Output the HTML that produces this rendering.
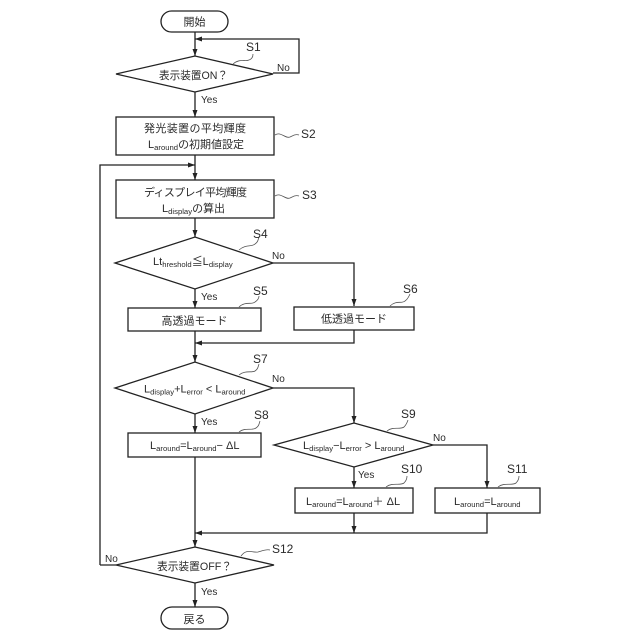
<!DOCTYPE html>
<html><head><meta charset="utf-8"><style>
html,body{margin:0;padding:0;background:#fff}
svg{display:block}
text{font-family:"Liberation Sans","Noto Sans CJK JP",sans-serif;fill:#2a2a2a;font-size:11px}
.s{font-size:12px}
.y{font-size:10px}
.b{font-size:7.7px}
.l{fill:none;stroke:#222;stroke-width:1.3}
.q{fill:none;stroke:#555;stroke-width:.8}
.h{fill:#222;stroke:none}
</style></head><body>
<svg width="640" height="640" viewBox="0 0 640 640" xmlns="http://www.w3.org/2000/svg">
<defs>
<path id="d" class="h" d="M-2.5,-7 L2.5,-7 L0,0 Z"/>
<path id="r" class="h" d="M7,-2.5 L7,2.5 L0,0 Z"/>
</defs>
<!-- connectors -->
<path class="l" d="M195,32V56M273,73H299V39H195M195,92V117M195,155V180M100,565V165H195M195,218V237M273,263H354V306M195,289V308M354,330V343H195M195,331V362M273,388H354V423M195,414V433M354,467V488M433,445H487V488M195,457V547M354,513V533M487,513V533H195M116,565H100M195,583V607"/>
<use href="#d" x="195" y="56"/><use href="#r" x="195" y="39"/><use href="#d" x="195" y="117"/>
<use href="#d" x="195" y="180"/><use href="#d" x="195" y="237"/><use href="#d" x="354" y="306"/>
<use href="#d" x="195" y="308"/><use href="#r" x="195" y="343"/><use href="#d" x="195" y="362"/>
<use href="#d" x="195" y="433"/><use href="#d" x="354" y="423"/><use href="#d" x="354" y="488"/>
<use href="#d" x="487" y="488"/><use href="#d" x="354" y="533"/><use href="#r" x="195" y="533"/>
<use href="#d" x="195" y="547"/><use href="#d" x="195" y="607"/>
<path class="h" d="M188,162.500L188,167.500L195,165Z"/>
<!-- shapes -->
<rect class="l" x="161" y="11" width="67" height="21" rx="10.500"/>
<path class="l" d="M116,74L195,56L273,74L195,92Z"/>
<rect class="l" x="116" y="117" width="158" height="38"/>
<rect class="l" x="116" y="180" width="158" height="38"/>
<path class="l" d="M115,263L195,237L273,263L195,289Z"/>
<rect class="l" x="128" y="308" width="133" height="23"/>
<rect class="l" x="294" y="307" width="120" height="23"/>
<path class="l" d="M115,388L195,362L273,388L195,414Z"/>
<rect class="l" x="128" y="433" width="133" height="24"/>
<path class="l" d="M274,445L354,423L433,445L354,467Z"/>
<rect class="l" x="295" y="488" width="118" height="25"/>
<rect class="l" x="435" y="488" width="105" height="25"/>
<path class="l" d="M116,565L195,547L274,565L195,583Z"/>
<rect class="l" x="161" y="607" width="67" height="22" rx="11"/>
<!-- leader squiggles -->
<path class="q" d="M233,64C240,58 245,62 249,60C252,59 253,57 253,54"/>
<path class="q" d="M275,135C281,131 285,139 290,137C294,135 296,134 299,135"/>
<path class="q" d="M275,196C281,192 285,200 290,198C294,196 296,195 299,196"/>
<path class="q" d="M239,250C246,244 252,247 255,244C258,242 258,240 259,237"/>
<path class="q" d="M239,307C245,301 252,305 255,302C258,300 259,298 259,296"/>
<path class="q" d="M390,306C396,300 402,304 405,301C408,299 409,296 410,294"/>
<path class="q" d="M239,375C245,370 252,373 255,371C258,369 258,367 259,364"/>
<path class="q" d="M239,432C245,427 252,431 256,428C259,426 259,424 260,421"/>
<path class="q" d="M387,431C393,426 400,430 404,427C406,425 407,423 408,420"/>
<path class="q" d="M386,487C392,482 400,486 404,483C406,481 407,479 407,476"/>
<path class="q" d="M498,487C504,482 512,486 516,483C518,481 519,479 519,476"/>
<path class="q" d="M241,556C247,548 252,553 258,552C262,551 266,549 270,550"/>
<!-- step labels -->
<text class="s" x="246" y="51">S1</text>
<text class="s" x="301" y="138">S2</text>
<text class="s" x="302" y="199">S3</text>
<text class="s" x="253" y="238">S4</text>
<text class="s" x="253" y="295">S5</text>
<text class="s" x="403" y="293">S6</text>
<text class="s" x="253" y="363">S7</text>
<text class="s" x="254" y="419">S8</text>
<text class="s" x="401" y="418">S9</text>
<text class="s" x="401" y="473">S10</text>
<text class="s" x="507" y="473">S11</text>
<text class="s" x="272" y="553">S12</text>
<!-- yes/no -->
<text class="y" x="277" y="71">No</text>
<text class="y" x="201" y="103">Yes</text>
<text class="y" x="272" y="259">No</text>
<text class="y" x="201" y="300">Yes</text>
<text class="y" x="272" y="382">No</text>
<text class="y" x="201" y="425">Yes</text>
<text class="y" x="433" y="441">No</text>
<text class="y" x="358" y="478">Yes</text>
<text class="y" x="105" y="562">No</text>
<text class="y" x="201" y="595">Yes</text>
<!-- node text -->
<text x="194.500" y="25.500" text-anchor="middle">開始</text>
<text x="159" y="79" textLength="69" lengthAdjust="spacingAndGlyphs">表示装置ON？</text>
<text x="144" y="132" textLength="102">発光装置の平均輝度</text>
<text x="148" y="148">L<tspan class="b" dy="2">around</tspan><tspan dy="-2">の初期値設定</tspan></text>
<text x="144" y="196" textLength="103">ディスプレイ平均輝度</text>
<text x="162" y="212">L<tspan class="b" dy="2">display</tspan><tspan dy="-2">の算出</tspan></text>
<text x="153" y="265">Lt<tspan class="b" dy="2">hreshold</tspan><tspan dy="-2">≦L</tspan><tspan class="b" dy="2">display</tspan></text>
<text x="194.500" y="324.500" text-anchor="middle">高透過モード</text>
<text x="354" y="322.500" text-anchor="middle">低透過モード</text>
<text x="144" y="392.500">L<tspan class="b" dy="2">display</tspan><tspan dy="-2">+L</tspan><tspan class="b" dy="2">error</tspan><tspan dy="-2"> &lt; L</tspan><tspan class="b" dy="2">around</tspan></text>
<text x="150" y="449">L<tspan class="b" dy="2">around</tspan><tspan dy="-2">=L</tspan><tspan class="b" dy="2">around</tspan><tspan dy="-2">− ΔL</tspan></text>
<text x="303" y="449">L<tspan class="b" dy="2">display</tspan><tspan dy="-2">−L</tspan><tspan class="b" dy="2">error</tspan><tspan dy="-2"> &gt; L</tspan><tspan class="b" dy="2">around</tspan></text>
<text x="306" y="505">L<tspan class="b" dy="2">around</tspan><tspan dy="-2">=L</tspan><tspan class="b" dy="2">around</tspan><tspan dy="-2">＋ ΔL</tspan></text>
<text x="454" y="505">L<tspan class="b" dy="2">around</tspan><tspan dy="-2">=L</tspan><tspan class="b" dy="2">around</tspan></text>
<text x="157" y="570" textLength="75" lengthAdjust="spacingAndGlyphs">表示装置OFF？</text>
<text x="194.500" y="623" text-anchor="middle">戻る</text>
</svg>
</body></html>
